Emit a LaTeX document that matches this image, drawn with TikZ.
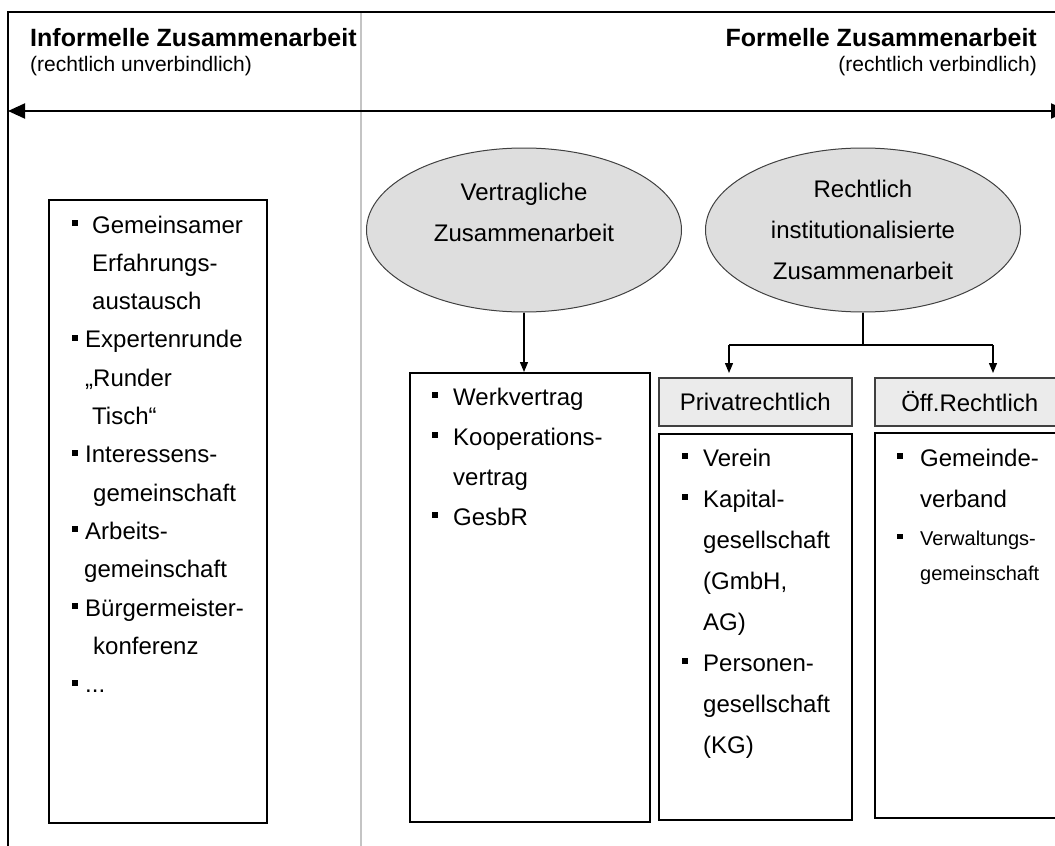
\documentclass[tikz,border=0pt]{standalone}
\usepackage{fontspec}
\setmainfont{Liberation Sans}
\usetikzlibrary{arrows.meta,shapes.geometric}
\newcommand{\bsq}{\rule[7pt]{6pt}{6pt}}
\newcommand{\bsqs}{\rule[6pt]{5.5pt}{5.5pt}}
\definecolor{ellgray}{HTML}{DEDEDE}
\definecolor{hdrgray}{HTML}{EBEBEB}
\definecolor{divgray}{HTML}{C4C4C4}
\definecolor{hdrline}{HTML}{404040}
\begin{document}
\begin{tikzpicture}[x=1pt,y=-1pt,
  frame/.style={line width=2pt,black},
  listbox/.style={draw=black,line width=1.6pt,fill=white,inner sep=0pt,anchor=north west},
  hdrbox/.style={draw=hdrline,line width=1.5pt,fill=hdrgray,inner sep=0pt,anchor=north west,minimum height=48pt,font=\fontsize{24}{28}\selectfont},
  ell/.style={ellipse,draw=black!75,line width=1pt,fill=ellgray,inner sep=0pt,minimum width=315pt,minimum height=164pt},
  txt/.style={inner sep=0pt,anchor=base west},
  ctxt/.style={inner sep=0pt,anchor=base},
  conn/.style={line width=1.3pt,black},
  arr/.style={conn,-{Triangle[length=10pt,width=8pt]}},
  bigarr/.style={line width=2pt,{Triangle[length=17pt,width=15pt]}-{Triangle[length=17pt,width=15pt]}}
]
\useasboundingbox (0,0) rectangle (1055,846);
\clip (0,0) rectangle (1055,846);
\fill[white] (0,0) rectangle (1055,846);

% frame and divider
\coordinate (fbl) at (8,850);
\coordinate (ftl) at (8,12);
\coordinate (ftr) at (1060,12);
\coordinate (dtop) at (361,13);
\coordinate (dbot) at (361,850);
\draw[divgray,line width=1.6pt] (dtop) -- (dbot);
\draw[frame] (fbl) -- (ftl) -- (ftr);

% headings
\node[txt,font=\fontsize{25}{30}\selectfont\bfseries] (hinf) at (30,46) {Informelle Zusammenarbeit};
\node[txt,font=\fontsize{21}{25}\selectfont] (sinf) at (30,71) {(rechtlich unverbindlich)};
\node[inner sep=0pt,anchor=base east,font=\fontsize{25}{30}\selectfont\bfseries] (hfor) at (1037,46) {Formelle Zusammenarbeit};
\node[inner sep=0pt,anchor=base east,font=\fontsize{21}{25}\selectfont] (sfor) at (1037,71) {(rechtlich verbindlich)};

% main double arrow
\coordinate (aL) at (8,111);
\coordinate (aR) at (1068,111);
\draw[bigarr] (aL) -- (aR);

% left list box
\node[listbox,minimum width=218pt,minimum height=623pt] (lb) at (48,199) {};
\node[txt] (lbt) at (72,233) {\fontsize{24}{38.3}\selectfont
\begin{tabular}[t]{@{}l@{}}
\bsq\hspace{14pt}Gemeinsamer\\
\hspace{20pt}Erfahrungs-\\
\hspace{20pt}austausch\\
\bsq\hspace{7pt}Expertenrunde\\
\hspace{13pt}„Runder\\
\hspace{20pt}Tisch“\\
\bsq\hspace{7pt}Interessens-\\
\hspace{21pt}gemeinschaft\\
\bsq\hspace{7pt}Arbeits-\\
\hspace{12pt}gemeinschaft\\
\bsq\hspace{7pt}Bürgermeister-\\
\hspace{21pt}konferenz\\
\bsq\hspace{7pt}...
\end{tabular}};

% ellipses
\node[ell] (e1) at (524,230) {};
\node[ctxt] (e1t) at (524,200) {\fontsize{24}{41}\selectfont
\begin{tabular}[t]{@{}c@{}}Vertragliche\\Zusammenarbeit\end{tabular}};
\node[ell] (e2) at (863,230) {};
\node[ctxt] (e2t) at (863,197) {\fontsize{24}{41}\selectfont
\begin{tabular}[t]{@{}c@{}}Rechtlich\\institutionalisierte\\Zusammenarbeit\end{tabular}};

% contract box
\node[listbox,minimum width=240pt,minimum height=449pt] (b2) at (409,372) {};
\node[txt] (b2t) at (432,405) {\fontsize{24}{40}\selectfont
\begin{tabular}[t]{@{}l@{}}
\bsq\hspace{15pt}Werkvertrag\\
\bsq\hspace{15pt}Kooperations-\\
\hspace{21pt}vertrag\\
\bsq\hspace{15pt}GesbR
\end{tabular}};
\draw[arr] (e1.south) -- (e1.south |- b2.north);

% header boxes
\node[hdrbox,minimum width=193pt] (hp) at (658,377) {Privatrechtlich};
\node[hdrbox,minimum width=190pt] (ho) at (874,377) {Öff.Rechtlich};

% lower boxes
\node[listbox,minimum width=193pt,minimum height=386pt] (bp) at (658,433) {};
\node[txt] (bpt) at (682,466) {\fontsize{24}{41}\selectfont
\begin{tabular}[t]{@{}l@{}}
\bsq\hspace{15pt}Verein\\
\bsq\hspace{15pt}Kapital-\\
\hspace{21pt}gesellschaft\\
\hspace{21pt}(GmbH,\\
\hspace{21pt}AG)\\
\bsq\hspace{15pt}Personen-\\
\hspace{21pt}gesellschaft\\
\hspace{21pt}(KG)
\end{tabular}};
\node[listbox,minimum width=190pt,minimum height=385pt] (bo) at (874,432) {};
\node[txt] (bot) at (897,466) {\fontsize{24}{41}\selectfont
\begin{tabular}[t]{@{}l@{}}
\bsq\hspace{17pt}Gemeinde-\\
\hspace{23pt}verband
\end{tabular}};
\node[txt] (bot2) at (897,545) {\fontsize{20}{35}\selectfont
\begin{tabular}[t]{@{}l@{}}
\bsqs\hspace{17.5pt}Verwaltungs-\\
\hspace{23pt}gemeinschaft
\end{tabular}};

% connector from second ellipse
\coordinate (j2) at (863,345);
\coordinate (jl) at (729,345);
\coordinate (jr) at (993,345);
\draw[conn] (e2.south) -- (j2);
\draw[conn] (jl) -- (jr);
\draw[arr,shorten >=4pt] (jl) -- (jl |- hp.north);
\draw[arr,shorten >=4pt] (jr) -- (jr |- ho.north);
\end{tikzpicture}
\end{document}
